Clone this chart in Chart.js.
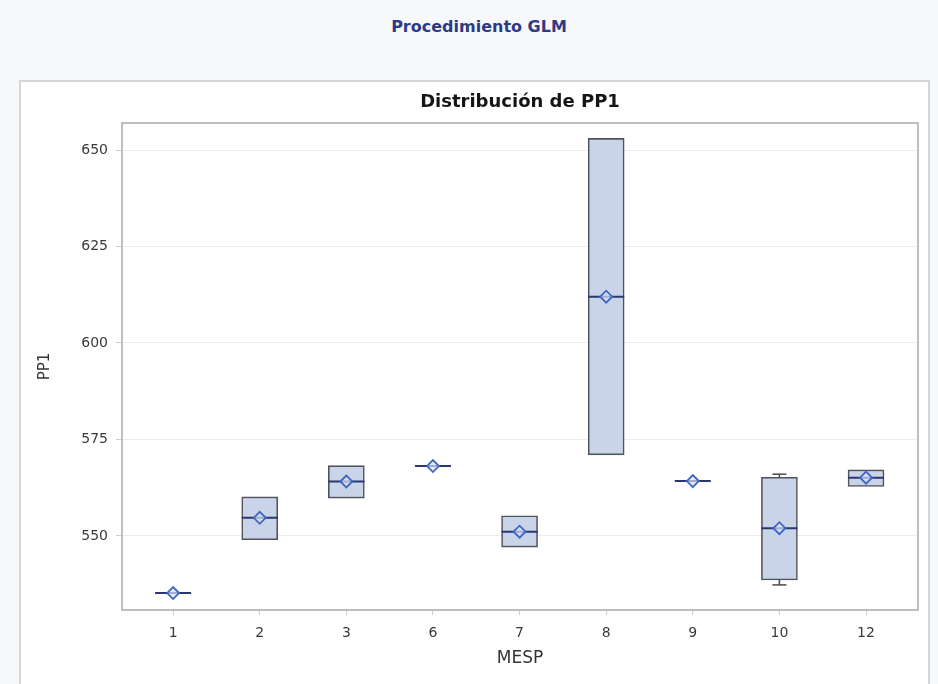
<!DOCTYPE html>
<html>
<head>
<meta charset="utf-8">
<script src="https://cdn.jsdelivr.net/npm/chart.js@4/dist/chart.umd.min.js"></script>
<style>
  html, body { margin: 0; padding: 0; }
  body { width: 938px; height: 684px; background: #f6f8fb; position: relative; overflow: hidden;
         font-family: "DejaVu Sans", Verdana, sans-serif; }
  #proc { position: absolute; left: 20px; top: 17px; width: 918px; text-align: center;
          font-size: 16px; font-weight: bold; color: #2f3a84; }
  #panel { position: absolute; left: 19px; top: 80px; width: 907px; height: 620px;
           background: #ffffff; border: 2px solid #d6d6d6; }
  #wrap { position: absolute; left: 0; top: 0; width: 938px; height: 684px; }
</style>
</head>
<body>
<div id="proc">Procedimiento GLM</div>
<div id="panel"></div>
<div id="wrap"><canvas id="c" width="938" height="684"></canvas></div>
<script>
// MESP groups and the PP1 summary statistics for each group
const mesp    = ["1", "2", "3", "6", "7", "8", "9", "10", "12"];
const minimum = [535.2, 549.0, 559.8, 568.1, 547.1, 571.0, 564.2, 537.3, 562.8];
const q1      = [535.2, 549.0, 559.8, 568.1, 547.1, 571.0, 564.2, 538.6, 562.8];
const median  = [535.2, 554.7, 564.1, 568.1, 551.1, 612.0, 564.2, 552.0, 565.1];
const mean    = [535.2, 554.7, 564.1, 568.1, 551.1, 612.0, 564.2, 552.0, 565.1];
const q3      = [535.2, 560.1, 568.2, 568.1, 555.2, 653.0, 564.2, 565.2, 567.1];
const maximum = [535.2, 560.1, 568.2, 568.1, 555.2, 653.0, 564.2, 566.0, 567.1];
const yTicks  = [550, 575, 600, 625, 650];

const idx = mesp.map((_, i) => i);

const boxData = idx.map(i => ({ x: i, y: [q1[i], q3[i]] }));
const medianData = idx.map(i => ({ x: i, y: median[i] }));
const meanData = idx.map(i => ({ x: i, y: mean[i] }));

const whiskerData = [];
const capData = [];
idx.forEach(i => {
  if (minimum[i] < q1[i]) {
    whiskerData.push({ x: i, y: minimum[i] }, { x: i, y: q1[i] }, { x: i, y: null });
    capData.push({ x: i, y: minimum[i] });
  }
  if (maximum[i] > q3[i]) {
    whiskerData.push({ x: i, y: q3[i] }, { x: i, y: maximum[i] }, { x: i, y: null });
    capData.push({ x: i, y: maximum[i] });
  }
});

// frame around the plot area
const frame = {
  id: 'frame',
  afterDatasetsDraw(chart) {
    const { ctx, chartArea: a } = chart;
    ctx.save();
    ctx.strokeStyle = '#afafaf';
    ctx.lineWidth = 1.6;
    ctx.strokeRect(a.left, a.top, a.right - a.left, a.bottom - a.top);
    ctx.restore();
  }
};

const FONT = "'DejaVu Sans', Verdana, sans-serif";

new Chart(document.getElementById('c'), {
  type: 'bar',
  data: {
    datasets: [
      {
        type: 'line', label: 'whiskers', data: whiskerData, order: 4,
        borderColor: '#4a4a55', borderWidth: 1.5, pointRadius: 0, spanGaps: false
      },
      {
        type: 'bar', label: 'box', data: boxData, order: 3,
        backgroundColor: '#c9d4e8', borderColor: '#50535e', borderWidth: 1.6,
        borderSkipped: false, barThickness: 36
      },
      {
        type: 'line', label: 'caps', data: capData, order: 2, showLine: false,
        pointStyle: 'line', pointRadius: 7, pointBorderColor: '#4a4a55', pointBorderWidth: 1.5
      },
      {
        type: 'line', label: 'median', data: medianData, order: 1, showLine: false,
        pointStyle: 'line', pointRadius: 18, pointBorderColor: '#2b3670', pointBorderWidth: 2
      },
      {
        type: 'line', label: 'mean', data: meanData, order: 0, showLine: false,
        pointStyle: 'rectRot', pointRadius: 6, pointBorderColor: '#3f66c4',
        pointBackgroundColor: 'rgba(214,224,244,0.7)', pointBorderWidth: 1.8
      }
    ]
  },
  options: {
    responsive: false,
    animation: false,
    events: [],
    layout: { padding: { left: 20, right: 18, top: 82, bottom: 0 } },
    plugins: {
      legend: { display: false },
      tooltip: { enabled: false },
      title: {
        display: true, fullSize: false, text: 'Distribución de PP1', color: '#151515',
        font: { family: FONT, size: 18, weight: 'bold' },
        padding: { top: 10, bottom: 9.4 }
      }
    },
    scales: {
      x: {
        type: 'linear', min: -0.59, max: 8.6, offset: false,
        afterBuildTicks: s => { s.ticks = idx.map(v => ({ value: v })); },
        afterFit: s => { s.height = 74; },
        ticks: {
          callback: v => mesp[v], color: '#3a3a3a', padding: 10,
          font: { family: FONT, size: 14 }, maxRotation: 0
        },
        grid: { offset: false, drawOnChartArea: false, drawTicks: true, tickLength: 5, tickColor: '#cfcfcf' },
        border: { display: false },
        title: {
          display: true, text: 'MESP', color: '#333',
          font: { family: FONT, size: 17 }, padding: { top: 0, bottom: 14.8 }
        }
      },
      y: {
        min: 530.8, max: 657,
        afterBuildTicks: s => { s.ticks = yTicks.map(v => ({ value: v })); },
        afterFit: s => { s.width = 102; },
        ticks: { color: '#3a3a3a', padding: 8, font: { family: FONT, size: 14 } },
        grid: { color: '#ededed', lineWidth: 1, tickLength: 6, tickColor: '#cfcfcf' },
        border: { display: false },
        title: {
          display: true, text: 'PP1', color: '#333',
          font: { family: FONT, size: 15 }, padding: { top: 16, bottom: 0 }
        }
      }
    }
  },
  plugins: [frame]
});
</script>
</body>
</html>
